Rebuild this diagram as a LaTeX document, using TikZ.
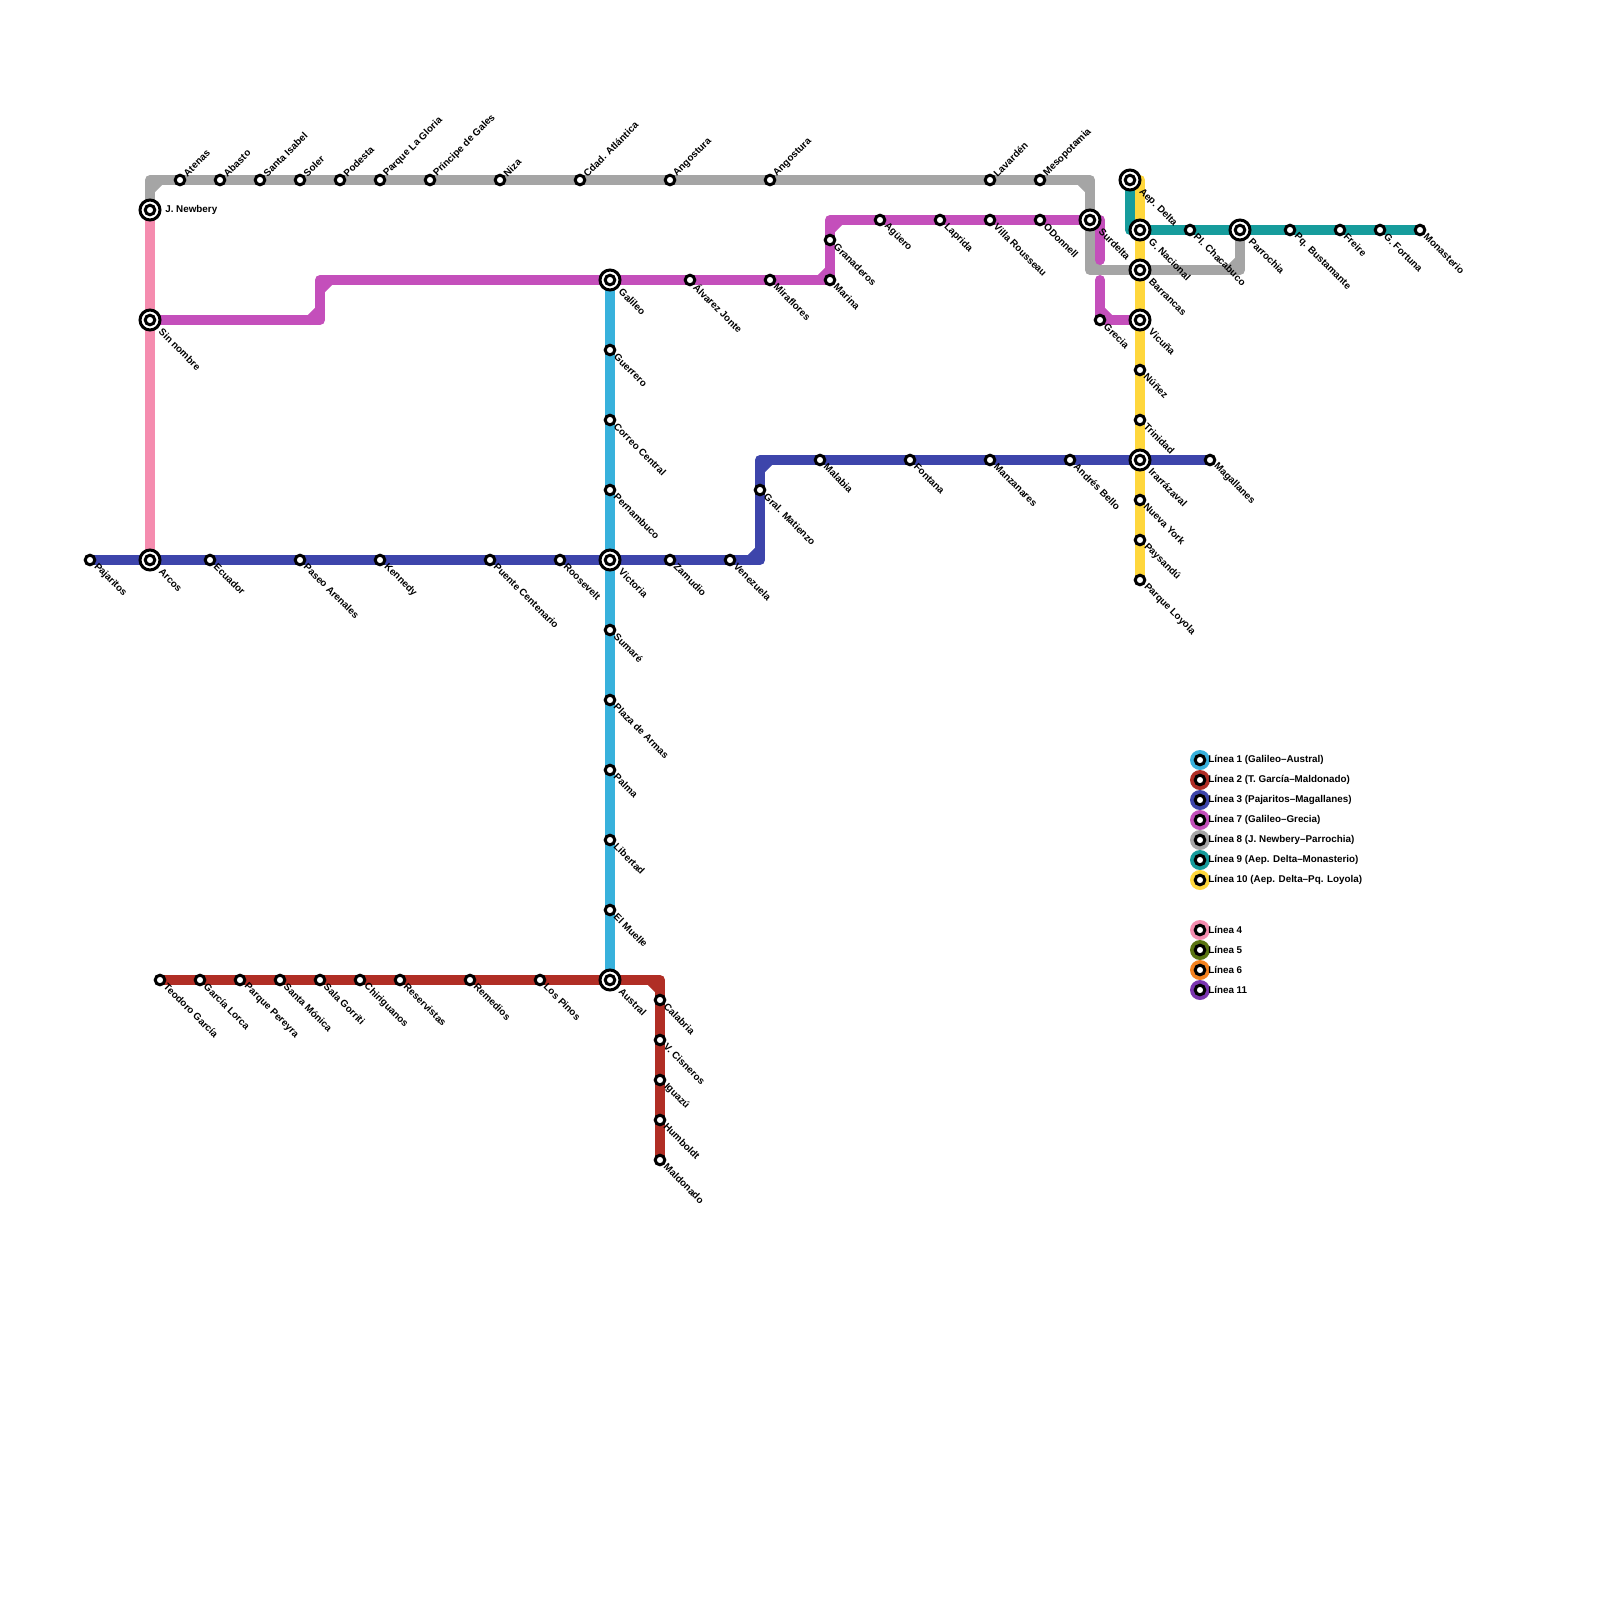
\documentclass[tikz,border=0pt]{standalone}
\usepackage{fontspec}
\setmainfont{Liberation Sans}
\usetikzlibrary{backgrounds}
\definecolor{lineaUno}{HTML}{38B1DC}
\definecolor{lineaDos}{HTML}{B02E25}
\definecolor{lineaTres}{HTML}{3D45AB}
\definecolor{lineaCuatro}{HTML}{F58CAF}
\definecolor{lineaCinco}{HTML}{5A7513}
\definecolor{lineaSeis}{HTML}{F5821F}
\definecolor{lineaSiete}{HTML}{C44FBB}
\definecolor{lineaOcho}{HTML}{A5A5A5}
\definecolor{lineaNueve}{HTML}{169C9C}
\definecolor{lineaDiez}{HTML}{FFD73C}
\definecolor{lineaOnce}{HTML}{7A35B0}
\tikzset{
	linea/.style={line width=.25cm, line cap=round, line join=round},
	parada/.style={circle, draw=black, fill=white, line width=.075cm, minimum size=.24cm, inner sep=0pt, outer sep=0pt},
	enlace/.style={circle, draw=black, fill=white, line width=.075cm, minimum size=.5cm, inner sep=0pt, outer sep=0pt,
		path picture={\draw[line width=.075cm] (path picture bounding box.center) circle (.12cm);}},
	nombre/.style={font=\fontsize{7}{8}\selectfont\bfseries, inner sep=0pt, anchor=west},
	abajo/.style={nombre, rotate=-45},
	arriba/.style={nombre, rotate=45},
}
\begin{document}
\begin{tikzpicture}[x=.025cm, y=-.025cm]
	\useasboundingbox (0,0) rectangle (1600,1600);
	% paradas simples, nombre hacia abajo
	\foreach \id/\x/\y/\txt in {
		guerrero/610/350/Guerrero, correo/610/420/Correo Central, pernambuco/610/490/Pernambuco,
		sumare/610/630/Sumaré, plaza/610/700/Plaza de Armas, palma/610/770/Palma,
		libertad/610/840/Libertad, muelle/610/910/El Muelle,
		teodoro/160/980/Teodoro García, lorca/200/980/García Lorca, pereyra/240/980/Parque Pereyra,
		monica/280/980/Santa Mónica, gorriti/320/980/Sala Gorriti, chiriguanos/360/980/Chiriguanos,
		reservistas/400/980/Reservistas, remedios/470/980/Remedios, pinos/540/980/Los Pinos,
		calabria/660/1000/Calabria, cisneros/660/1040/V. Cisneros, iguazu/660/1080/Iguazú,
		humboldt/660/1120/Humboldt, maldonado/660/1160/Maldonado,
		pajaritos/90/560/Pajaritos, ecuador/210/560/Ecuador, arenales/300/560/Paseo Arenales,
		kennedy/380/560/Kennedy, centenario/490/560/Puente Centenario, roosevelt/560/560/Roosevelt,
		zamudio/670/560/Zamudio, venezuela/730/560/Venezuela, matienzo/760/490/Gral. Matienzo,
		malabia/820/460/Malabia, fontana/910/460/Fontana, manzanares/990/460/Manzanares,
		bello/1070/460/Andrés Bello, magallanes/1210/460/Magallanes,
		jonte/690/280/Álvarez Jonte, miraflores/770/280/Miraflores, marina/830/280/Marina,
		granaderos/830/240/Granaderos, aguero/880/220/Agüero, laprida/940/220/Laprida,
		rousseau/990/220/Villa Rousseau, odonnell/1040/220/ODonnell, grecia/1100/320/Grecia,
		nunez/1140/370/Núñez, trinidad/1140/420/Trinidad, york/1140/500/Nueva York,
		paysandu/1140/540/Paysandú, loyola/1140/580/Parque Loyola,
		chacabuco/1190/230/Pl. Chacabuco, bustamante/1290/230/Pq. Bustamante, freire/1340/230/Freire,
		fortuna/1380/230/G. Fortuna, monasterio/1420/230/Monasterio}{
		\node[parada] (\id) at (\x,\y) {};
		\node[abajo] (\id-txt) at (\x+5.5,\y+5) {\txt};
	}
	% paradas simples, nombre hacia arriba
	\foreach \id/\x/\txt in {
		atenas/180/Atenas, abasto/220/Abasto, isabel/260/Santa Isabel, soler/300/Soler,
		podesta/340/Podesta, gloria/380/Parque La Gloria, gales/430/Príncipe de Gales, niza/500/Niza,
		atlantica/580/Cdad. Atlántica, angosturaA/670/Angostura, angosturaB/770/Angostura,
		lavarden/990/Lavardén, mesopotamia/1040/Mesopotamia}{
		\node[parada] (\id) at (\x,180) {};
		\node[arriba] (\id-txt) at (\x+5,180-5) {\txt};
	}
	% combinaciones
	\foreach \id/\x/\y/\txt in {
		sinnombre/150/320/Sin nombre, arcos/150/560/Arcos, galileo/610/280/Galileo,
		victoria/610/560/Victoria, austral/610/980/Austral, surdelta/1090/220/Surdelta,
		delta/1130/180/Aep. Delta, nacional/1140/230/G. Nacional, barrancas/1140/270/Barrancas,
		vicuna/1140/320/Vicuña, irarrazaval/1140/460/Irarrázaval, parrochia/1240/230/Parrochia}{
		\node[enlace] (\id) at (\x,\y) {};
		\node[abajo] (\id-txt) at (\x+10.5,\y+10) {\txt};
	}
	\node[enlace] (newbery) at (150,210) {};
	\node[nombre] (newbery-txt) at (165,209.5) {J. Newbery};
	% esquinas
	\coordinate (e1) at (150,180);
	\coordinate (e2) at (1090,180);
	\coordinate (e3) at (1090,270);
	\coordinate (e4) at (1240,270);
	\coordinate (e5) at (320,320);
	\coordinate (e6) at (320,280);
	\coordinate (e7) at (830,280);
	\coordinate (e8) at (830,220);
	\coordinate (e9) at (1100,220);
	\coordinate (e10) at (1100,260);
	\coordinate (e11) at (1100,280);
	\coordinate (e12) at (660,980);
	\coordinate (e13) at (760,560);
	\coordinate (e14) at (760,460);
	\coordinate (e15) at (1130,230);
	\coordinate (e16) at (1140,180);
	\begin{scope}[on background layer]
		\draw[linea, lineaCuatro] (newbery.center) -- (arcos.center);
		\draw[linea, lineaOcho] (newbery.center) -- (e1) -- (e2) -- (e3) -- (e4) -- (parrochia.center);
		\foreach \xa/\ya/\xb/\yb in {150/190/160/180, 1080/180/1090/190, 1090/260/1100/270, 1230/270/1240/260}
		\draw[linea, lineaOcho] (\xa,\ya) -- (\xb,\yb);
		\draw[linea, lineaUno] (galileo.center) -- (austral.center);
		\draw[linea, lineaDos] (teodoro.center) -- (e12) -- (maldonado.center);
		\draw[linea, lineaDos] (650,980) -- (660,990);
		\draw[linea, lineaTres] (pajaritos.center) -- (e13) -- (e14) -- (magallanes.center);
		\foreach \xa/\ya/\xb/\yb in {750/560/760/550, 760/470/770/460}
		\draw[linea, lineaTres] (\xa,\ya) -- (\xb,\yb);
		\draw[linea, lineaSiete] (sinnombre.center) -- (e5) -- (e6) -- (e7) -- (e8) -- (e9) -- (e10);
		\draw[linea, lineaSiete] (e11) -- (grecia.center) -- (vicuna.center);
		\foreach \xa/\ya/\xb/\yb in {310/320/320/310, 320/290/330/280, 820/280/830/270, 830/230/840/220, 1100/310/1110/320}
		\draw[linea, lineaSiete] (\xa,\ya) -- (\xb,\yb);
		\draw[linea, lineaNueve] (delta.center) -- (e15) -- (monasterio.center);
		\draw[linea, lineaDiez] (e16) -- (loyola.center);
	\end{scope}
	% leyenda
	\foreach \id/\y/\col/\txt in {
		uno/760/lineaUno/Línea 1 (Galileo–Austral), dos/780/lineaDos/Línea 2 (T. García–Maldonado),
		tres/800/lineaTres/Línea 3 (Pajaritos–Magallanes), siete/820/lineaSiete/Línea 7 (Galileo–Grecia),
		ocho/840/lineaOcho/Línea 8 (J. Newbery–Parrochia), nueve/860/lineaNueve/Línea 9 (Aep. Delta–Monasterio),
		diez/880/lineaDiez/Línea 10 (Aep. Delta–Pq. Loyola), cuatro/930/lineaCuatro/Línea 4,
		cinco/950/lineaCinco/Línea 5, seis/970/lineaSeis/Línea 6, once/990/lineaOnce/Línea 11}{
		\node[circle, fill=\col, minimum size=.5cm, inner sep=0pt] (ley-\id) at (1200,\y) {};
		\node[parada] (ley-\id-p) at (ley-\id) {};
		\node[nombre] (ley-\id-txt) at (1208,\y-.5) {\txt};
	}
\end{tikzpicture}
\end{document}
